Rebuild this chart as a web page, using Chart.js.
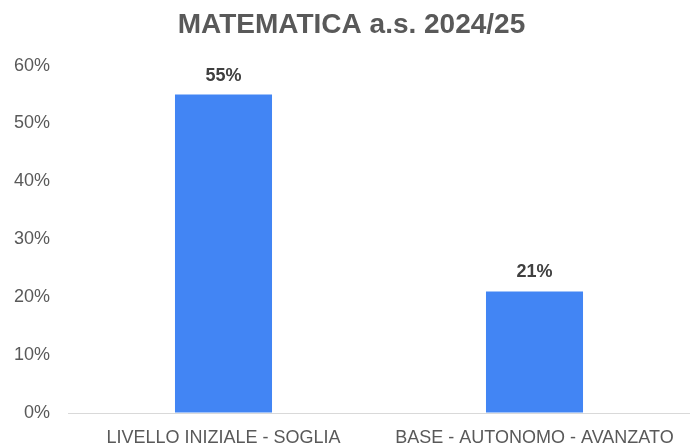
<!DOCTYPE html>
<html>
<head>
<meta charset="utf-8">
<script src="https://cdn.jsdelivr.net/npm/chart.js@4/dist/chart.umd.min.js"></script>
<style>
html,body{margin:0;padding:0;background:#fff;}
#wrap{width:697px;height:446px;position:relative;}
</style>
</head>
<body>
<div id="wrap"><canvas id="c"></canvas></div>
<script>
const categories = ["LIVELLO INIZIALE - SOGLIA", "BASE - AUTONOMO - AVANZATO"];
const values = [55, 21];
const yTicks = [0, 10, 20, 30, 40, 50, 60];
const titleText = "MATEMATICA a.s. 2024/25";

const valueLabels = {
  id: 'valueLabels',
  afterDatasetsDraw(chart) {
    const ctx = chart.ctx;
    const meta = chart.getDatasetMeta(0);
    ctx.save();
    ctx.font = 'bold 18px "Liberation Sans", Arial, sans-serif';
    ctx.fillStyle = '#404040';
    ctx.textAlign = 'center';
    ctx.textBaseline = 'bottom';
    meta.data.forEach((bar, i) => {
      ctx.fillText(values[i] + '%', bar.x, bar.y - 10);
    });
    ctx.restore();
  }
};

new Chart(document.getElementById('c'), {
  type: 'bar',
  data: {
    labels: categories,
    datasets: [{
      data: values,
      backgroundColor: '#4285F4',
      borderWidth: 0,
      barPercentage: 0.624,
      categoryPercentage: 0.5
    }]
  },
  options: {
    responsive: true,
    maintainAspectRatio: false,
    animation: false,
    layout: { padding: { left: 13, right: 7, top: 0, bottom: 0 } },
    plugins: {
      legend: { display: false },
      tooltip: { enabled: false },
      title: {
        display: true,
        text: titleText,
        color: '#595959',
        font: { family: '"Liberation Sans", Arial, sans-serif', size: 28, weight: 'bold' },
        padding: { top: 8, bottom: 24 }
      }
    },
    scales: {
      x: {
        grid: { display: false },
        border: { display: false },
        afterFit(scale) { scale.height = 33; },
        ticks: {
          color: '#595959',
          font: { family: '"Liberation Sans", Arial, sans-serif', size: 18 },
          padding: 6,
          maxRotation: 0,
          autoSkip: false
        }
      },
      y: {
        min: 0,
        max: 60,
        afterBuildTicks(scale) { scale.ticks = yTicks.map(v => ({ value: v })); },
        afterFit(scale) { scale.width = 55; },
        border: { display: false },
        grid: {
          drawTicks: false,
          color: ctx => (ctx.tick && ctx.tick.value === 0) ? '#d9d9d9' : 'rgba(0,0,0,0)',
          lineWidth: 1
        },
        ticks: {
          color: '#595959',
          font: { family: '"Liberation Sans", Arial, sans-serif', size: 18 },
          padding: 18,
          callback: v => v + '%'
        }
      }
    }
  },
  plugins: [valueLabels]
});
</script>
</body>
</html>
